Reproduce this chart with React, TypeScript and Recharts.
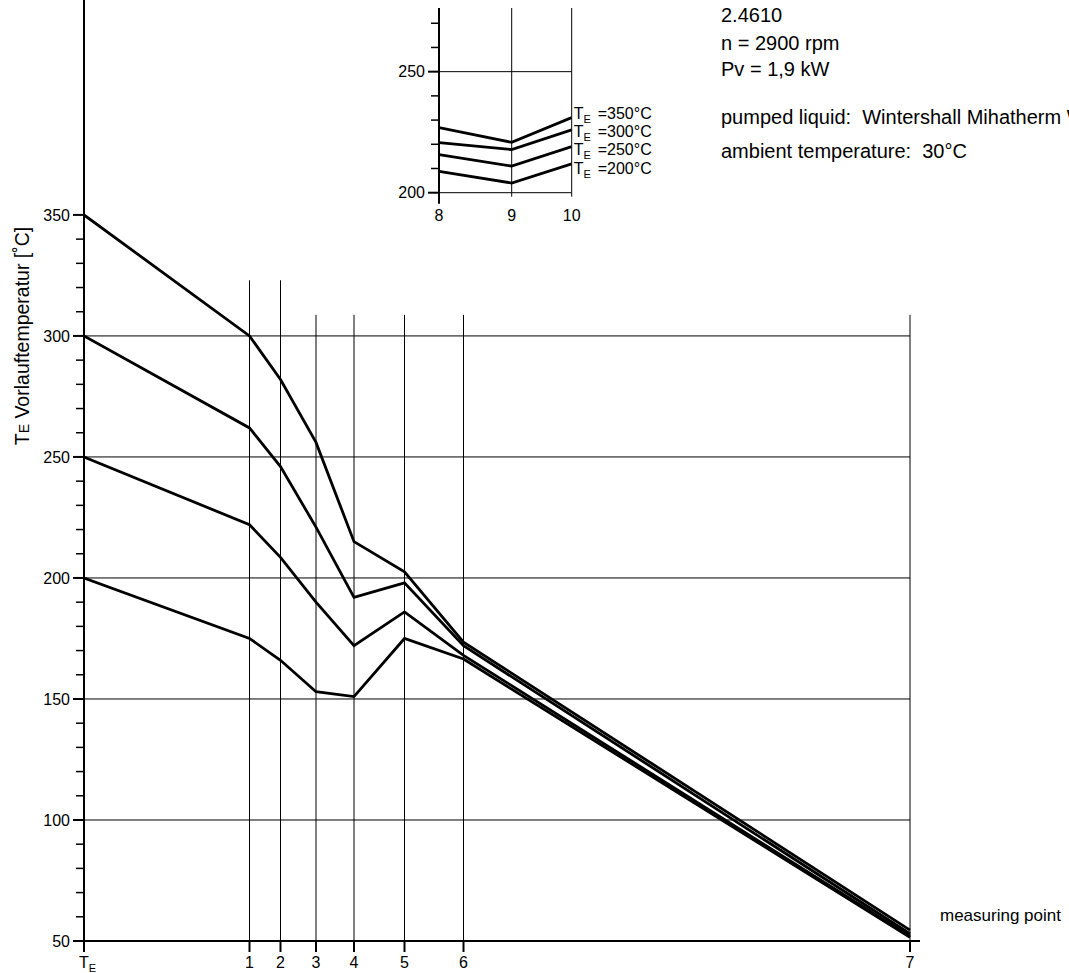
import React from 'react';
import { LineChart, Line, XAxis, YAxis, ReferenceLine } from 'recharts';

const FONT = "'Liberation Sans', Arial, Helvetica, sans-serif";

// ---------- main chart data ----------
const pointLabels = ['TE', '1', '2', '3', '4', '5', '6', '7'];
const pointPositions = [0, 165.5, 196.5, 232, 270, 320.5, 379.5, 826];
const te350 = [350, 300, 282, 256, 215, 202.5, 173.5, 54.5];
const te300 = [300, 262, 246, 221, 192, 198, 172, 53];
const te250 = [250, 222, 208.5, 190, 172, 186, 168, 52];
const te200 = [200, 175, 166, 153, 151, 175, 166.5, 51.5];
const yTicks = [50, 60, 70, 80, 90, 100, 110, 120, 130, 140, 150, 160, 170, 180, 190, 200, 210, 220, 230, 240, 250, 260, 270, 280, 290, 300, 310, 320, 330, 340, 350];
const yGridValues = [100, 150, 200, 250, 300];
const gridTops = [0, 323, 323, 308.7, 308.7, 308.7, 308.7, 308.7];

// ---------- inset data ----------
const insetLabels = ['8', '9', '10'];
const insetPositions = [0, 72.7, 132.7];
const in350 = [226.9, 220.8, 231];
const in300 = [220.7, 217.8, 226];
const in250 = [215.7, 211, 219];
const in200 = [208.8, 204, 211.9];
const insetTicks = [200, 210, 220, 230, 240, 250, 260, 270];
const insetSeriesNames = ['350', '300', '250', '200'];
const insetLabelDy = [-4.5, 1.5, 2.5, 4];

const mainData = pointPositions.map((p, i) => ({
  pos: p,
  s350: te350[i],
  s300: te300[i],
  s250: te250[i],
  s200: te200[i],
}));

const insetData = insetPositions.map((p, i) => ({
  pos: p,
  s350: in350[i],
  s300: in300[i],
  s250: in250[i],
  s200: in200[i],
}));

const MainYTick = (props: any) => {
  const { x, y, payload } = props;
  const major = payload.value % 50 === 0;
  return (
    <g>
      <line x1={x - (major ? 11 : 8)} x2={x} y1={y} y2={y} stroke="#000" strokeWidth={major ? 2 : 1.5} />
      {major && (
        <text x={x - 14} y={y} dy="0.36em" textAnchor="end" fontSize={16} fontFamily={FONT} fill="#000">
          {payload.value}
        </text>
      )}
    </g>
  );
};

const MainXTick = (props: any) => {
  const { x, y, index } = props;
  const label = pointLabels[index];
  return (
    <g>
      <line x1={x} x2={x} y1={y} y2={y + 11} stroke="#000" strokeWidth={2} />
      {label === 'TE' ? (
        <text x={x - 5} y={y + 27} fontSize={16} fontFamily={FONT} fill="#000">
          T<tspan fontSize={11} dy={4}>E</tspan>
        </text>
      ) : (
        <text x={x} y={y + 27} textAnchor="middle" fontSize={16} fontFamily={FONT} fill="#000">
          {label}
        </text>
      )}
    </g>
  );
};

const InsetYTick = (props: any) => {
  const { x, y, payload } = props;
  const major = payload.value % 50 === 0;
  return (
    <g>
      <line x1={x - (major ? 11 : 8)} x2={x} y1={y} y2={y} stroke="#000" strokeWidth={major ? 2 : 1.5} />
      {major && (
        <text x={x - 14} y={y} dy="0.36em" textAnchor="end" fontSize={16} fontFamily={FONT} fill="#000">
          {payload.value}
        </text>
      )}
    </g>
  );
};

const InsetXTick = (props: any) => {
  const { x, y, index } = props;
  return (
    <g>
      <line x1={x} x2={x} y1={y} y2={y + (index === 0 ? 11 : 4)} stroke="#000" strokeWidth={index === 0 ? 2 : 1} />
      <text x={x} y={y + 28} textAnchor="middle" fontSize={16} fontFamily={FONT} fill="#000">
        {insetLabels[index]}
      </text>
    </g>
  );
};

const makeInsetLabel = (si: number) => (props: any) => {
  const { x, y, index } = props;
  if (index !== insetPositions.length - 1) return null;
  return (
    <text x={x + 2} y={y + insetLabelDy[si]} dy="0.36em" fontSize={16} fontFamily={FONT} fill="#000">
      T<tspan fontSize={11} dy={4}>E</tspan>
      <tspan x={x + 26} dy={-4}>{'=' + insetSeriesNames[si] + '°C'}</tspan>
    </text>
  );
};

export default function App() {
  const keys = ['s350', 's300', 's250', 's200'];
  return (
    <div style={{ position: 'absolute', left: 0, top: 0, width: 1069, height: 973, background: '#fff', overflow: 'hidden' }}>
      <div style={{ position: 'absolute', left: 0, top: 0 }}>
        <LineChart width={1069} height={973} data={mainData} margin={{ top: 0, right: 149, bottom: 0, left: 0 }}>
          <XAxis
            dataKey="pos"
            type="number"
            domain={[0, 836]}
            ticks={pointPositions}
            interval={0}
            height={32}
            tickSize={0}
            tickMargin={0}
            tickLine={false}
            tick={<MainXTick />}
            axisLine={{ stroke: '#000', strokeWidth: 2 }}
            allowDataOverflow
          />
          <YAxis
            type="number"
            domain={[50, 438.8]}
            ticks={yTicks}
            interval={0}
            width={84}
            tickSize={0}
            tickMargin={0}
            tickLine={false}
            tick={<MainYTick />}
            axisLine={{ stroke: '#000', strokeWidth: 2 }}
            allowDataOverflow
          />
          {yGridValues.map((v) => (
            <ReferenceLine
              key={'h' + v}
              segment={[{ x: 0, y: v }, { x: pointPositions[pointPositions.length - 1], y: v }]}
              stroke="#000"
              strokeWidth={1}
              ifOverflow="visible"
            />
          ))}
          {pointPositions.slice(1).map((p, i) => (
            <ReferenceLine
              key={'v' + i}
              segment={[{ x: p, y: 50 }, { x: p, y: gridTops[i + 1] }]}
              stroke="#000"
              strokeWidth={1}
              ifOverflow="visible"
            />
          ))}
          {keys.map((k) => (
            <Line key={k} dataKey={k} type="linear" stroke="#000" strokeWidth={2.8} dot={false} isAnimationActive={false} />
          ))}
        </LineChart>
      </div>

      <div style={{ position: 'absolute', left: 360, top: 0 }}>
        <LineChart width={340} height={230} data={insetData} margin={{ top: 8, right: 128.3, bottom: 0, left: 0 }}>
          <XAxis
            dataKey="pos"
            type="number"
            domain={[0, 132.7]}
            ticks={insetPositions}
            interval={0}
            height={37.3}
            tickSize={0}
            tickMargin={0}
            tickLine={false}
            tick={<InsetXTick />}
            axisLine={{ stroke: '#000', strokeWidth: 1 }}
            allowDataOverflow
          />
          <YAxis
            type="number"
            domain={[200, 276.3]}
            ticks={insetTicks}
            interval={0}
            width={79}
            tickSize={0}
            tickMargin={0}
            tickLine={false}
            tick={<InsetYTick />}
            axisLine={{ stroke: '#000', strokeWidth: 2 }}
            allowDataOverflow
          />
          <ReferenceLine
            segment={[{ x: 0, y: 250 }, { x: insetPositions[2], y: 250 }]}
            stroke="#000"
            strokeWidth={1}
            ifOverflow="visible"
          />
          {insetPositions.slice(1).map((p, i) => (
            <ReferenceLine
              key={'iv' + i}
              segment={[{ x: p, y: 200 }, { x: p, y: 276.3 }]}
              stroke="#000"
              strokeWidth={1}
              ifOverflow="visible"
            />
          ))}
          {keys.map((k, si) => (
            <Line
              key={k}
              dataKey={k}
              type="linear"
              stroke="#000"
              strokeWidth={2.8}
              dot={false}
              isAnimationActive={false}
              label={makeInsetLabel(si)}
            />
          ))}
        </LineChart>
      </div>

      <svg width={1069} height={973} style={{ position: 'absolute', left: 0, top: 0, pointerEvents: 'none' }}>
        <g fontFamily={FONT} fill="#000">
          <text x={721} y={22} fontSize={20}>2.4610</text>
          <text x={721} y={50} fontSize={20}>n = 2900 rpm</text>
          <text x={721} y={76} fontSize={20}>Pv = 1,9 kW</text>
          <text x={721} y={124} fontSize={20} style={{ whiteSpace: 'pre' }}>{'pumped liquid:  Wintershall Mihatherm WTH'}</text>
          <text x={721} y={158} fontSize={20} style={{ whiteSpace: 'pre' }}>{'ambient temperature:  30°C'}</text>
          <text x={940} y={921} fontSize={17}>measuring point</text>
          <text transform="translate(29,336) rotate(-90)" x={0} y={0} textAnchor="middle" fontSize={19.5}>
            T<tspan fontSize={14}>E</tspan>{' Vorlauftemperatur [˚C]'}
          </text>
        </g>
      </svg>
    </div>
  );
}
